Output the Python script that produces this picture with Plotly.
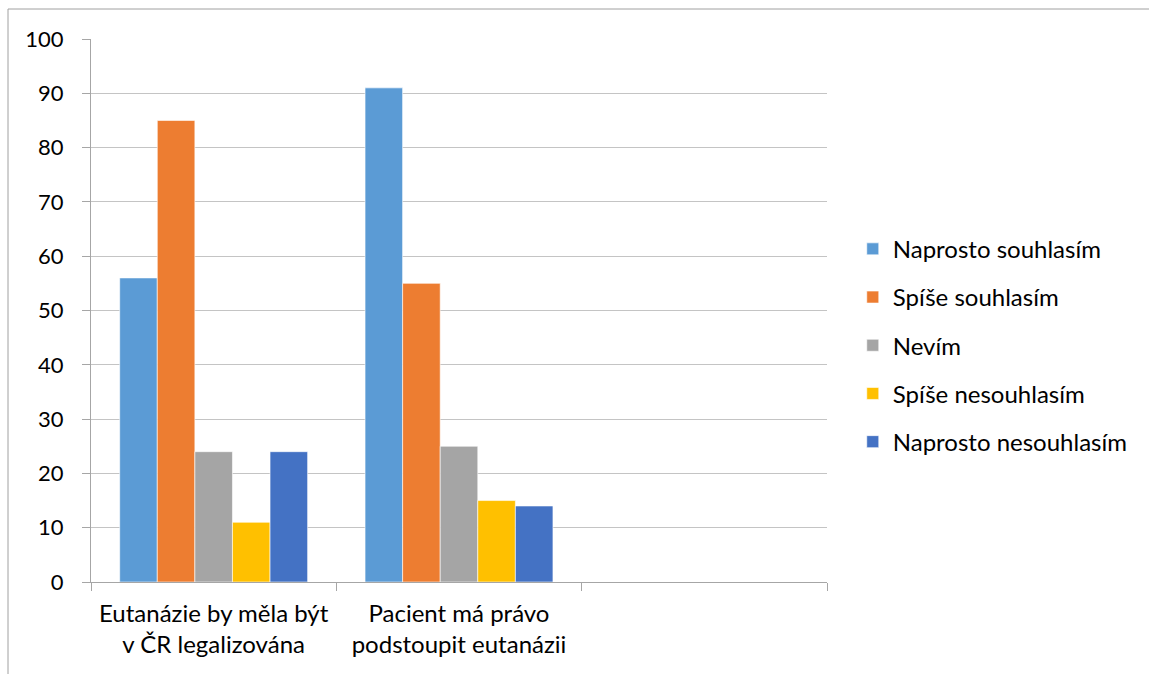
import plotly.graph_objects as go

# Survey answers per statement (counts)
categories = [
    "Eutanázie by měla být<br>v ČR legalizována",
    "Pacient má právo<br>podstoupit eutanázii",
    "",
]
series_names = [
    "Naprosto souhlasím",
    "Spíše souhlasím",
    "Nevím",
    "Spíše nesouhlasím",
    "Naprosto nesouhlasím",
]
naprosto_souhlasim = [56, 91]
spise_souhlasim = [85, 55]
nevim = [24, 25]
spise_nesouhlasim = [11, 15]
naprosto_nesouhlasim = [24, 14]
y_ticks = [0, 10, 20, 30, 40, 50, 60, 70, 80, 90, 100]

series_values = [naprosto_souhlasim, spise_souhlasim, nevim,
                 spise_nesouhlasim, naprosto_nesouhlasim]
colors = ["#5B9BD5", "#ED7D31", "#A5A5A5", "#FFC000", "#4472C4"]

FONT = "Lato"
W, H = 1149, 674
L, R, T, B = 91, 322, 39, 92

fig = go.Figure()
x_pos = list(range(len(naprosto_souhlasim)))
for i, (name, vals) in enumerate(zip(series_names, series_values)):
    fig.add_trace(go.Bar(
        x=x_pos, y=vals, name=name,
        marker=dict(color=colors[i], line=dict(color="white", width=0.6)),
        legendgroup=f"g{i}",
    ))

# invisible helper trace on the overlay axis so its tick marks render
fig.add_trace(go.Scatter(x=[-0.5, 2.5], y=[0, 0], xaxis="x2", mode="none",
                         showlegend=False, hoverinfo="skip"))

axis_gray = "#A6A6A6"
grid_gray = "#C4C4C4"

fig.update_layout(
    width=W, height=H,
    margin=dict(l=L, r=R, t=T, b=B),
    paper_bgcolor="white", plot_bgcolor="white",
    font=dict(family=FONT, size=24, color="#000000"),
    barmode="group", bargap=0.234, bargroupgap=0,
    showlegend=True,
    legend=dict(
        x=1.035, xanchor="left", y=0.436, yanchor="middle",
        xref="paper", yref="paper",
        font=dict(family=FONT, size=24, color="#000000"),
        tracegroupgap=14, itemwidth=30,
        traceorder="grouped",
        bgcolor="rgba(0,0,0,0)",
    ),
    xaxis=dict(
        range=[-0.5, 2.5],
        tickmode="array",
        tickvals=[0, 1, 2],
        ticktext=categories,
        ticks="",
        ticklabelstandoff=10,
        showgrid=False,
        showline=True, linecolor=axis_gray, linewidth=1,
        zeroline=False,
        tickfont=dict(family=FONT, size=24, color="#000000"),
        fixedrange=True,
    ),
    xaxis2=dict(
        overlaying="x", anchor="y",
        range=[-0.5, 2.5],
        tickmode="array",
        tickvals=[-0.5, 0.5, 1.5, 2.5],
        ticks="outside", ticklen=8, tickcolor=axis_gray, tickwidth=1,
        showticklabels=False, showgrid=False, showline=False,
        zeroline=False, side="bottom",
    ),
    yaxis=dict(
        range=[0, 100],
        tickmode="array", tickvals=y_ticks,
        ticks="outside", ticklen=8, tickcolor=axis_gray, tickwidth=1,
        ticklabelstandoff=14,
        showgrid=True, gridcolor=grid_gray, gridwidth=1,
        showline=True, linecolor=axis_gray, linewidth=1,
        zeroline=False,
        tickfont=dict(family=FONT, size=22, color="#000000"),
    ),
    shapes=[dict(
        type="rect", xref="paper", yref="paper",
        x0=(8 - L) / (W - L - R), x1=(W + 10 - L) / (W - L - R),
        y0=-(H + 10 - (H - B)) / (H - T - B), y1=(H - 9 - B) / (H - T - B),
        line=dict(color="#A0A0A0", width=1), fillcolor="rgba(0,0,0,0)",
        layer="below",
    )],
)

fig.write_html("out.html")
